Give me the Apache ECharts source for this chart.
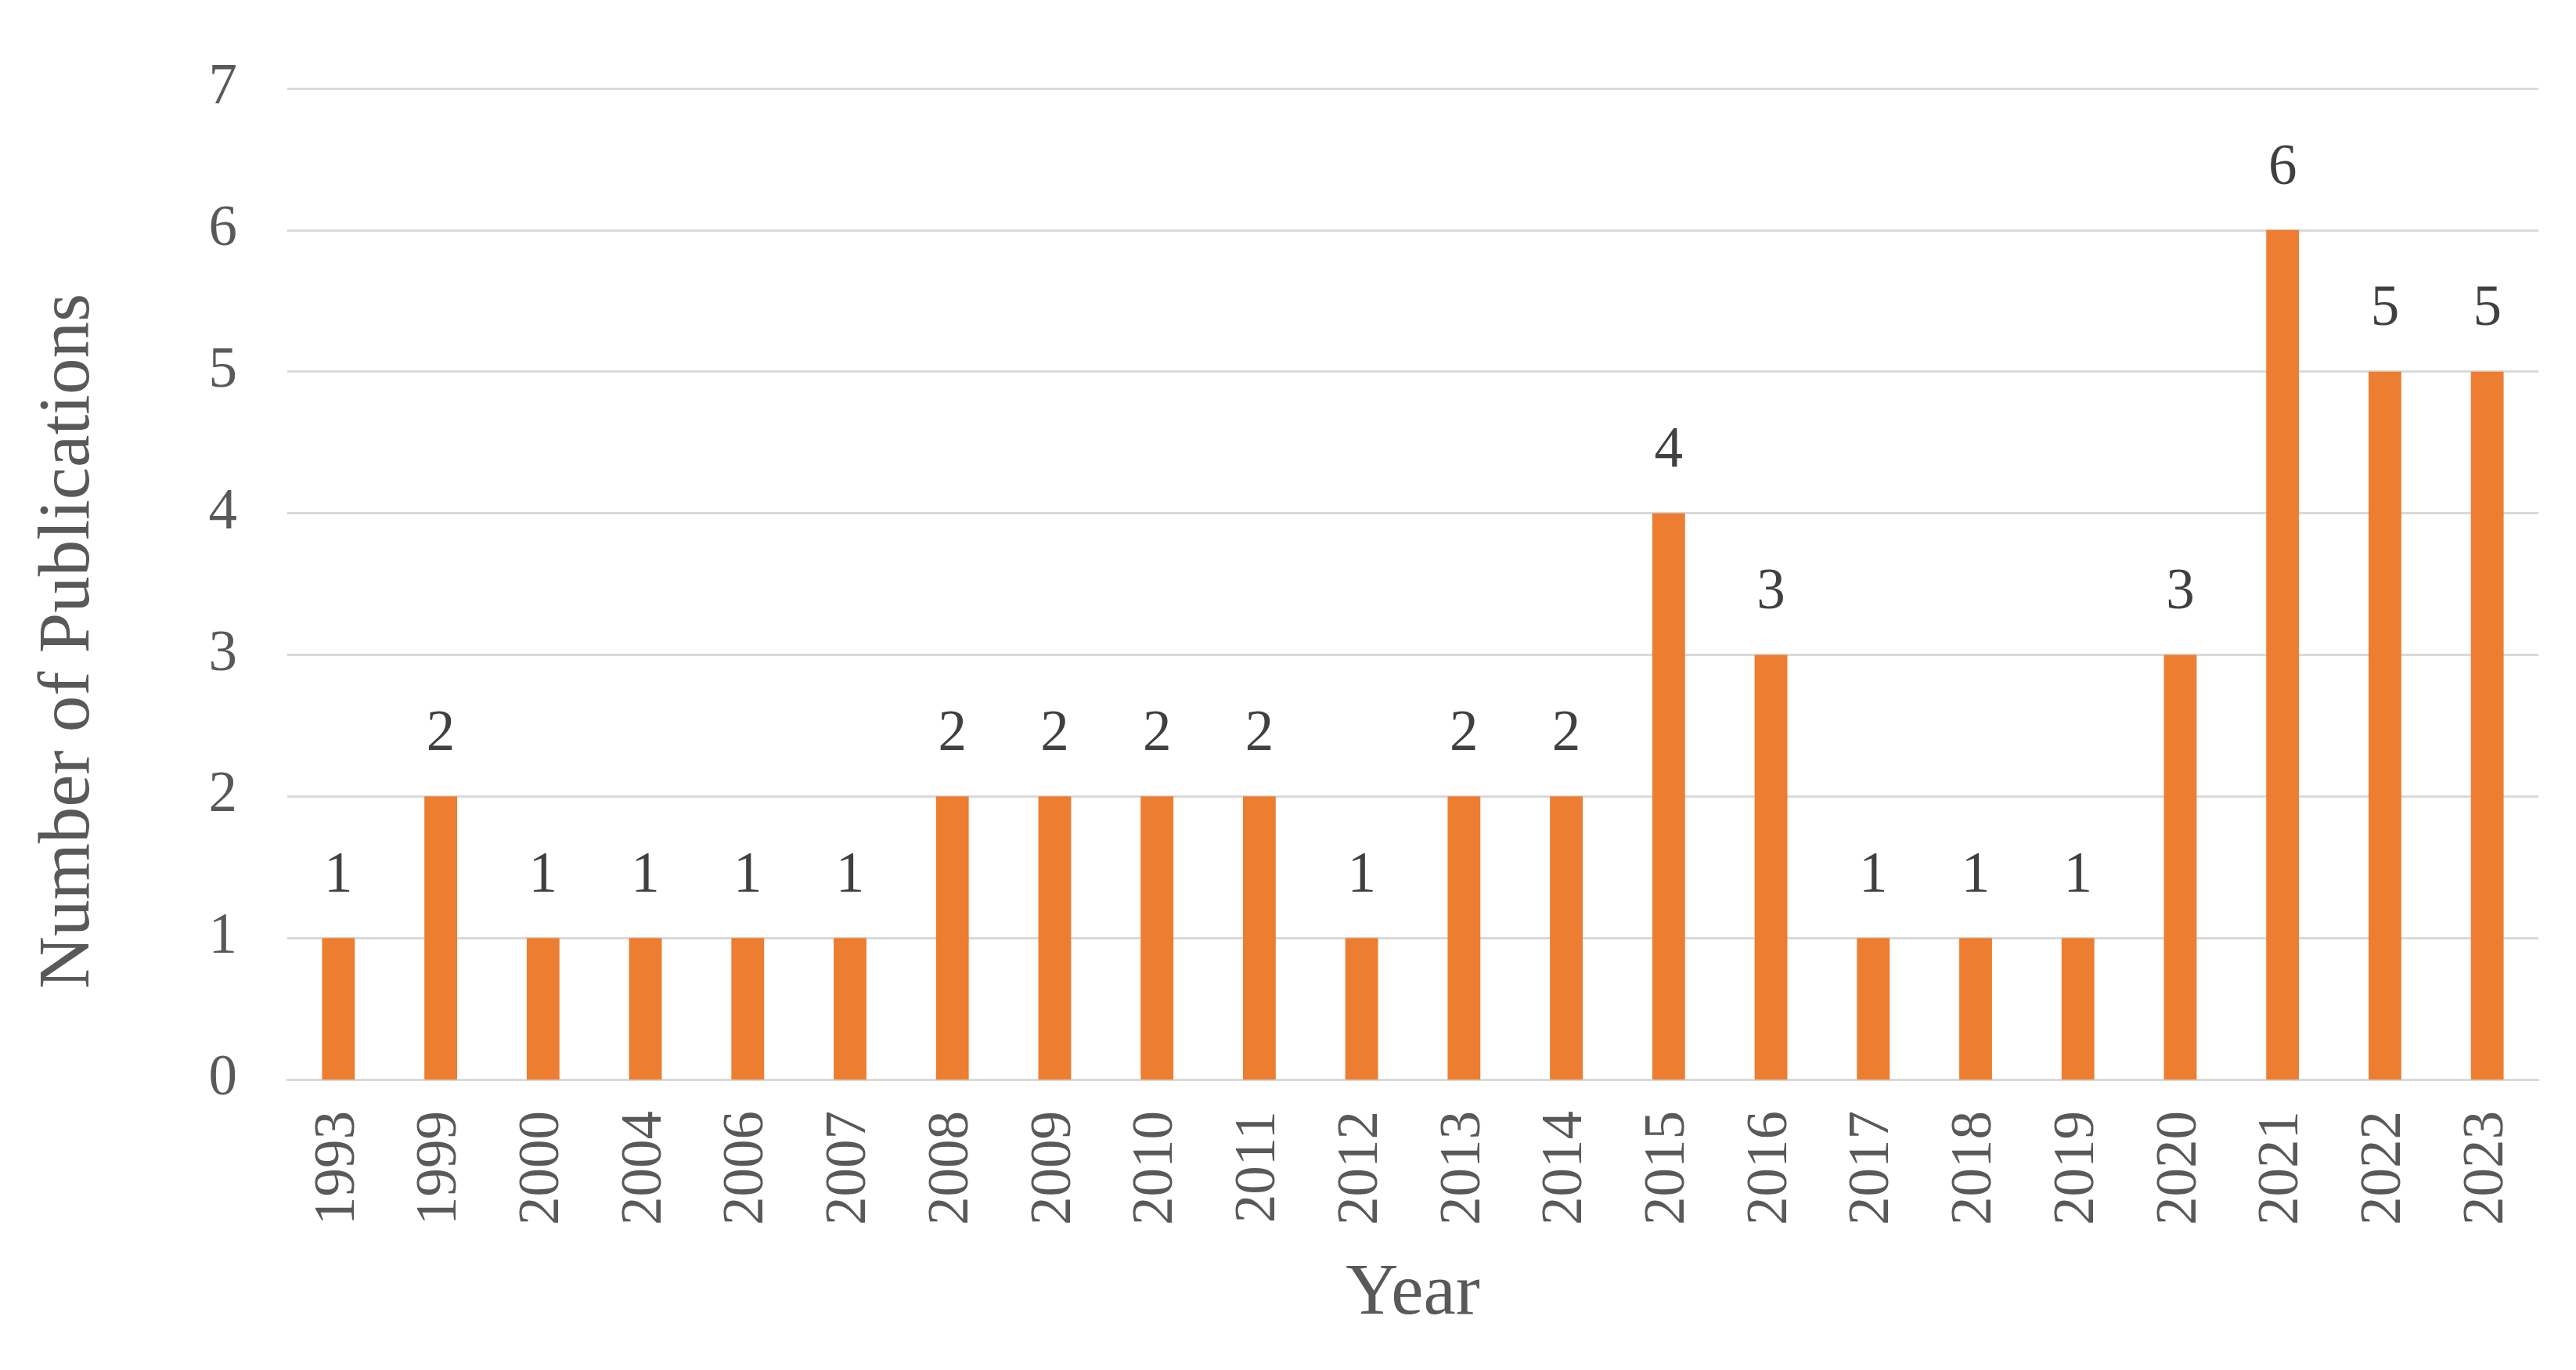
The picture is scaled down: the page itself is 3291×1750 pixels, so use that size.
<!DOCTYPE html>
<html>
<head>
<meta charset="utf-8">
<script src="https://cdn.jsdelivr.net/npm/echarts@6/dist/echarts.min.js"></script>
<style>
html,body{margin:0;padding:0;background:#fff;}
#chart{width:3291px;height:1750px;}
</style>
</head>
<body>
<div id="chart"></div>
<script>
const years = ['1993','1999','2000','2004','2006','2007','2008','2009','2010','2011','2012','2013','2014','2015','2016','2017','2018','2019','2020','2021','2022','2023'];
const publications = [1,2,1,1,1,1,2,2,2,2,1,2,2,4,3,1,1,1,3,6,5,5];
const yTicks = [0,1,2,3,4,5,6,7];
const xTitle = 'Year';
const yTitle = 'Number of Publications';

const font = '"Liberation Serif", "DejaVu Serif", serif';
const chart = echarts.init(document.getElementById('chart'));
chart.setOption({
  backgroundColor: '#ffffff',
  animation: false,
  grid: { left: 367, right: 48, top: 113, bottom: 371, containLabel: false },
  xAxis: {
    type: 'category',
    data: years,
    name: xTitle,
    nameLocation: 'middle',
    nameGap: 228,
    nameTextStyle: { fontFamily: font, fontSize: 93, color: '#595959' },
    axisLine: { show: true, lineStyle: { color: '#D9D9D9', width: 3 } },
    axisTick: { show: false },
    axisLabel: { rotate: 90, margin: 40, fontFamily: font, fontSize: 73, color: '#595959', interval: 0 }
  },
  yAxis: {
    type: 'value',
    min: yTicks[0],
    max: yTicks[yTicks.length - 1],
    interval: 1,
    name: yTitle,
    nameLocation: 'middle',
    nameGap: 232,
    nameRotate: 90,
    nameTextStyle: { fontFamily: font, fontSize: 93, color: '#595959', padding: [0, 146, 0, 0] },
    axisLine: { show: false },
    axisTick: { show: false },
    splitLine: { lineStyle: { color: '#D9D9D9', width: 3 } },
    axisLabel: { margin: 64, fontFamily: font, fontSize: 73, color: '#595959' }
  },
  series: [{
    type: 'bar',
    data: publications,
    barWidth: '32%',
    itemStyle: { color: '#ED7D31' },
    label: { show: true, position: 'top', distance: 42, fontFamily: font, fontSize: 73, color: '#404040' }
  }]
});
</script>
</body>
</html>
